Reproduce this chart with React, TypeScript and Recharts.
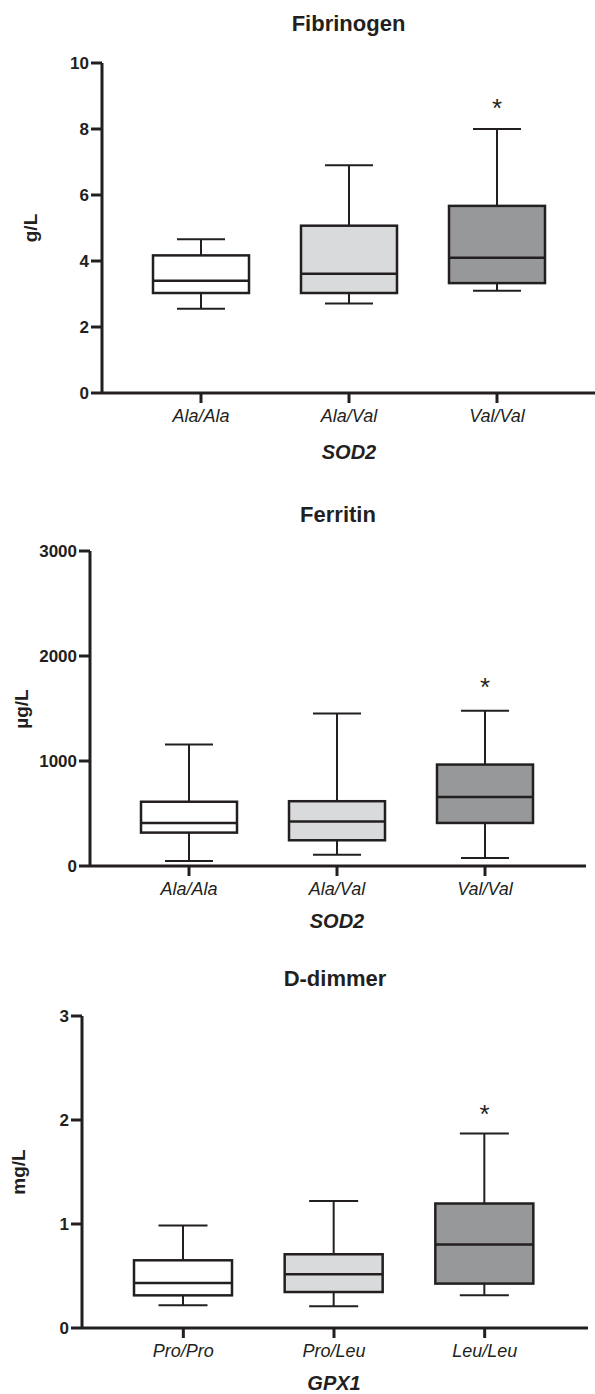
import React from "react";
import { ComposedChart, Bar, Scatter, XAxis, YAxis } from "recharts";

const INK = "#231f20";
const FONT = "'Liberation Sans', Arial, sans-serif";

// SOD2 genotype groups
const sod2Genotypes = ["Ala/Ala", "Ala/Val", "Val/Val"];
// GPX1 genotype groups
const gpx1Genotypes = ["Pro/Pro", "Pro/Leu", "Leu/Leu"];

const boxFills = ["#ffffff", "#d9dadb", "#97989a"];

// Fibrinogen, g/L
const fibMin = [2.55, 2.71, 3.1];
const fibQ1 = [3.03, 3.03, 3.33];
const fibMedian = [3.4, 3.61, 4.1];
const fibQ3 = [4.17, 5.07, 5.67];
const fibMax = [4.66, 6.9, 8.0];
const fibStar = [null, null, 8.8];
const fibTicks = [0, 2, 4, 6, 8, 10];

// Ferritin, µg/L
const ferMin = [48, 108, 76];
const ferQ1 = [318, 245, 410];
const ferMedian = [410, 423, 658];
const ferQ3 = [612, 617, 966];
const ferMax = [1157, 1452, 1478];
const ferStar = [null, null, 1754];
const ferTicks = [0, 1000, 2000, 3000];

// D-dimmer, mg/L
const ddMin = [0.218, 0.209, 0.314];
const ddQ1 = [0.314, 0.346, 0.427];
const ddMedian = [0.433, 0.517, 0.802];
const ddQ3 = [0.651, 0.709, 1.197];
const ddMax = [0.985, 1.222, 1.87];
const ddStar = [null, null, 2.11];
const ddTicks = [0, 1, 2, 3];

const X_AXIS_H = 30;

function buildRows(cats: string[], min: number[], q1: number[], median: number[], q3: number[], max: number[], star: (number | null)[]) {
  return cats.map((cat, i) => ({
    cat,
    min: min[i],
    q1: q1[i],
    median: median[i],
    q3: q3[i],
    max: max[i],
    star: star[i],
  }));
}

const fibRows = buildRows(sod2Genotypes, fibMin, fibQ1, fibMedian, fibQ3, fibMax, fibStar);
const ferRows = buildRows(sod2Genotypes, ferMin, ferQ1, ferMedian, ferQ3, ferMax, ferStar);
const ddRows = buildRows(gpx1Genotypes, ddMin, ddQ1, ddMedian, ddQ3, ddMax, ddStar);

// bar is a [min, max] range, so its y/height give the value scale
const BoxShape = (props: any) => {
  const { x, y, width, height, payload, index } = props;
  const { min, q1, median, q3, max } = payload;
  const toY = (v: number) => y + ((max - v) / (max - min)) * height;
  const cx = x + width / 2;
  const cap = width / 4;
  return (
    <g>
      <line x1={cx} x2={cx} y1={toY(max)} y2={toY(min)} stroke={INK} strokeWidth={2} />
      <line x1={cx - cap} x2={cx + cap} y1={toY(max)} y2={toY(max)} stroke={INK} strokeWidth={2} />
      <line x1={cx - cap} x2={cx + cap} y1={toY(min)} y2={toY(min)} stroke={INK} strokeWidth={2} />
      <rect
        x={x}
        y={toY(q3)}
        width={width}
        height={toY(q1) - toY(q3)}
        fill={boxFills[index]}
        stroke={INK}
        strokeWidth={2.5}
      />
      <line x1={x} x2={x + width} y1={toY(median)} y2={toY(median)} stroke={INK} strokeWidth={2.5} />
    </g>
  );
};

const StarShape = (props: any) => {
  const { cx, cy, payload } = props;
  if (payload == null || payload.star == null) return <g />;
  return (
    <text x={cx} y={cy} dy={14} textAnchor="middle" fontSize={26} fontFamily={FONT} fill={INK}>
      *
    </text>
  );
};

interface Layout {
  top: number;
  height: number;
  plotTop: number;
  plotBottom: number;
  axisX: number;
  padL: number;
  padR: number;
  xEnd: number;
  barSize: number;
  yLabelX: number;
  xTitleY: number;
  titleY: number;
}

function BoxPanel({
  rows,
  ticks,
  title,
  yLabel,
  xTitle,
  layout,
}: {
  rows: any[];
  ticks: number[];
  title: string;
  yLabel: string;
  xTitle: string;
  layout: Layout;
}) {
  const { top, height, plotTop, plotBottom, axisX, padL, padR, xEnd, barSize, yLabelX, xTitleY, titleY } = layout;
  const midY = (plotTop + plotBottom) / 2 - top;
  const band = (xEnd - axisX - padL - padR) / rows.length;
  const midX = axisX + padL + band * 1.5;

  const overlay = (extra: React.CSSProperties): React.CSSProperties => ({
    position: "absolute",
    whiteSpace: "nowrap",
    lineHeight: 1,
    color: INK,
    fontFamily: FONT,
    ...extra,
  });

  return (
    <div style={{ position: "absolute", left: 0, top, width: 595, height }}>
      <ComposedChart
        width={xEnd}
        height={height}
        data={rows}
        margin={{ top: plotTop - top, bottom: top + height - plotBottom - X_AXIS_H, left: 0, right: 0 }}
      >
        <XAxis
          dataKey="cat"
          height={X_AXIS_H}
          padding={{ left: padL, right: padR }}
          axisLine={{ stroke: INK, strokeWidth: 3 }}
          tickLine={{ stroke: INK, strokeWidth: 3 }}
          tickSize={10}
          tickMargin={6}
          tick={{ fill: INK, fontSize: 18, fontStyle: "italic", fontFamily: FONT }}
        />
        <YAxis
          width={axisX}
          type="number"
          domain={[ticks[0], ticks[ticks.length - 1]]}
          ticks={ticks}
          axisLine={{ stroke: INK, strokeWidth: 3 }}
          tickLine={{ stroke: INK, strokeWidth: 3 }}
          tickSize={11}
          tick={{ fill: INK, fontSize: 17, fontWeight: 700, fontFamily: FONT }}
        />
        <Bar
          dataKey={(d: any) => [d.min, d.max]}
          barSize={barSize}
          shape={<BoxShape />}
          isAnimationActive={false}
        />
        <Scatter dataKey="star" shape={StarShape} isAnimationActive={false} />
      </ComposedChart>

      <div
        style={overlay({
          left: (axisX + xEnd) / 2,
          top: titleY - top,
          transform: "translate(-50%, -50%)",
          fontSize: 22,
          fontWeight: 700,
        })}
      >
        {title}
      </div>
      <div
        style={overlay({
          left: yLabelX,
          top: midY,
          transform: "translate(-50%, -50%) rotate(-90deg)",
          fontSize: 19,
          fontWeight: 700,
        })}
      >
        {yLabel}
      </div>
      <div
        style={overlay({
          left: midX,
          top: xTitleY - top,
          transform: "translate(-50%, -50%)",
          fontSize: 20,
          fontWeight: 700,
          fontStyle: "italic",
        })}
      >
        {xTitle}
      </div>
    </div>
  );
}

export default function App() {
  return (
    <div style={{ position: "absolute", left: 0, top: 0, width: 595, height: 1394, background: "#fff" }}>
      <BoxPanel
        rows={fibRows}
        ticks={fibTicks}
        title="Fibrinogen"
        yLabel="g/L"
        xTitle="SOD2"
        layout={{
          top: 0,
          height: 470,
          plotTop: 63,
          plotBottom: 393,
          axisX: 102,
          padL: 25,
          padR: 24,
          xEnd: 595,
          barSize: 96,
          yLabelX: 30,
          xTitleY: 452,
          titleY: 24,
        }}
      />
      <BoxPanel
        rows={ferRows}
        ticks={ferTicks}
        title="Ferritin"
        yLabel="µg/L"
        xTitle="SOD2"
        layout={{
          top: 480,
          height: 450,
          plotTop: 551,
          plotBottom: 866,
          axisX: 90,
          padL: 25,
          padR: 27,
          xEnd: 586,
          barSize: 96,
          yLabelX: 21,
          xTitleY: 921,
          titleY: 514.5,
        }}
      />
      <BoxPanel
        rows={ddRows}
        ticks={ddTicks}
        title="D-dimmer"
        yLabel="mg/L"
        xTitle="GPX1"
        layout={{
          top: 930,
          height: 464,
          plotTop: 1016,
          plotBottom: 1328,
          axisX: 82,
          padL: 26,
          padR: 28,
          xEnd: 588,
          barSize: 98,
          yLabelX: 18,
          xTitleY: 1383,
          titleY: 979,
        }}
      />
    </div>
  );
}
